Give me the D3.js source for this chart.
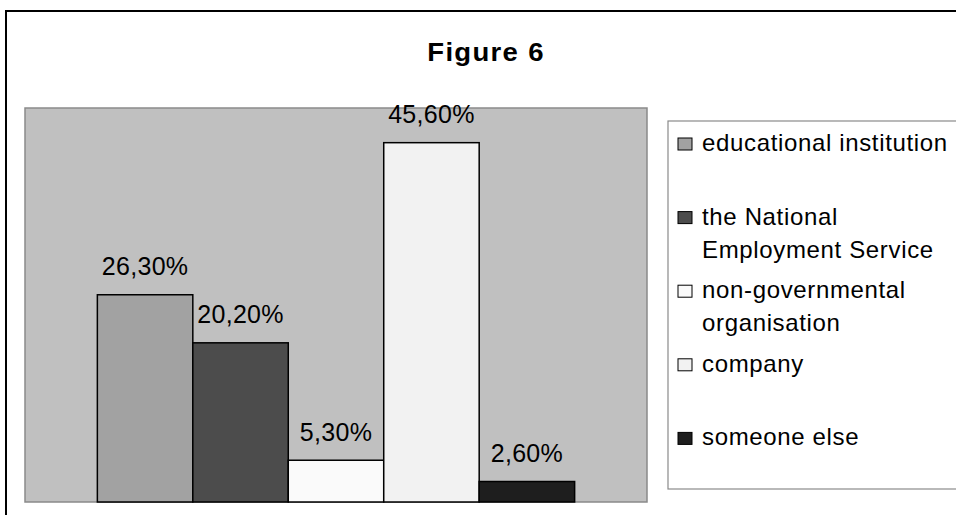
<!DOCTYPE html>
<html>
<head>
<meta charset="utf-8">
<title>Figure 6</title>
<script src="https://cdn.jsdelivr.net/npm/d3@7"></script>
<style>
  html, body { margin: 0; padding: 0; background: #ffffff; }
  svg { display: block; font-family: "Liberation Sans", Arial, sans-serif; }
</style>
</head>
<body>
<svg id="chart" width="956" height="515"></svg>
<script>
// Who helped respondents: share of answers per source
const categories = [
  "educational institution",
  "the National Employment Service",
  "non-governmental organisation",
  "company",
  "someone else"
];
const values = [26.3, 20.2, 5.3, 45.6, 2.6];
const valueLabels = ["26,30%", "20,20%", "5,30%", "45,60%", "2,60%"];
const fills = ["#a2a2a2", "#4c4c4c", "#fafafa", "#f2f2f2", "#1e1e1e"];
const title = "Figure 6";

const svg = d3.select("#chart");

// outer frame of the chart object
svg.append("rect")
  .attr("x", 6).attr("y", 11)
  .attr("width", 1000).attr("height", 600)
  .attr("fill", "#ffffff")
  .attr("stroke", "#000000")
  .attr("stroke-width", 2);

// title (slightly widened bold face)
svg.append("text")
  .attr("transform", "translate(486,61) scale(1.1,1)")
  .attr("text-anchor", "middle")
  .attr("font-size", 25)
  .attr("font-weight", "bold")
  .attr("letter-spacing", "1.2px")
  .attr("fill", "#000")
  .text(title);

// plot area
const plot = { left: 25, right: 647, top: 108, bottom: 502 };

svg.append("rect")
  .attr("x", plot.left).attr("y", plot.top)
  .attr("width", plot.right - plot.left)
  .attr("height", plot.bottom - plot.top)
  .attr("fill", "#c0c0c0")
  .attr("stroke", "#8a8a8a")
  .attr("stroke-width", 1.5);

const x = d3.scaleBand()
  .domain(categories)
  .range([plot.left, plot.right])
  .paddingInner(0)
  .paddingOuter(0.758);

const y = d3.scaleLinear()
  .domain([0, 50])
  .range([plot.bottom, plot.top]);

const bars = svg.append("g");
bars.selectAll("rect")
  .data(categories)
  .join("rect")
  .attr("x", d => x(d))
  .attr("y", (d, i) => y(values[i]))
  .attr("width", x.bandwidth())
  .attr("height", (d, i) => y(0) - y(values[i]))
  .attr("fill", (d, i) => fills[i])
  .attr("stroke", "#000")
  .attr("stroke-width", 1.5);

// value labels above each bar
svg.append("g").selectAll("text")
  .data(categories)
  .join("text")
  .attr("x", d => x(d) + x.bandwidth() / 2)
  .attr("y", (d, i) => y(values[i]) - 19.5)
  .attr("text-anchor", "middle")
  .attr("font-size", 25)
  .attr("letter-spacing", "0.3px")
  .attr("fill", "#000")
  .text((d, i) => valueLabels[i]);

// legend
const legend = { left: 668, top: 121, bottom: 489 };
svg.append("rect")
  .attr("x", legend.left).attr("y", legend.top)
  .attr("width", 400)
  .attr("height", legend.bottom - legend.top)
  .attr("fill", "#ffffff")
  .attr("stroke", "#8a8a8a")
  .attr("stroke-width", 1.2);

const slot = (legend.bottom - legend.top) / categories.length;
const lineHeight = 33;
const maxTextWidth = 255;

const items = svg.append("g").selectAll("g")
  .data(categories)
  .join("g")
  .attr("transform", (d, i) => `translate(0,${legend.top + i * slot + 30})`);

items.append("rect")
  .attr("x", 678).attr("y", -13)
  .attr("width", 14).attr("height", 12)
  .attr("fill", (d, i) => fills[i])
  .attr("stroke", "#000")
  .attr("stroke-width", 1);

items.append("text")
  .attr("x", 702).attr("y", 0)
  .attr("font-size", 24)
  .attr("letter-spacing", "0.65px")
  .attr("fill", "#000")
  .each(function (d) {
    // wrap the label into lines that fit the legend width
    const text = d3.select(this);
    const words = d.split(" ");
    let line = [];
    let tspan = text.append("tspan").attr("x", 702).attr("dy", 0);
    words.forEach(w => {
      line.push(w);
      tspan.text(line.join(" "));
      if (tspan.node().getComputedTextLength() > maxTextWidth && line.length > 1) {
        line.pop();
        tspan.text(line.join(" "));
        line = [w];
        tspan = text.append("tspan").attr("x", 702).attr("dy", lineHeight).text(w);
      }
    });
  });
</script>
</body>
</html>
